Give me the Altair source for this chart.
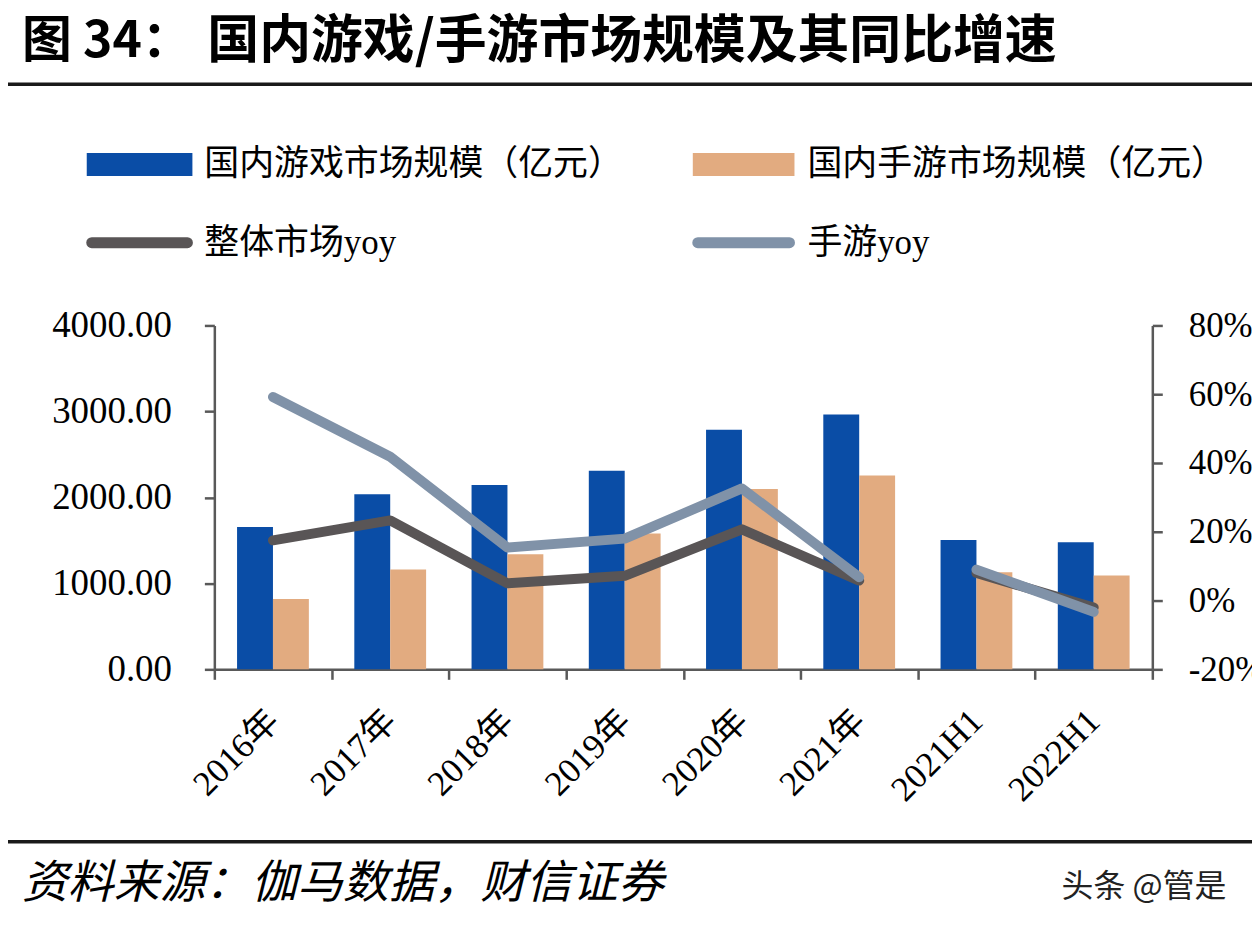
import altair as alt
import pandas as pd

# ---------------- data ----------------
categories = ["2016年", "2017年", "2018年", "2019年", "2020年", "2021年", "2021H1", "2022H1"]
game_market = [1655.7, 2036.1, 2144.4, 2308.8, 2786.9, 2965.1, 1504.9, 1477.9]
mobile_market = [819.2, 1161.2, 1339.6, 1581.1, 2096.8, 2255.4, 1130.0, 1090.0]
overall_yoy = [0.175, 0.233, 0.050, 0.072, 0.207, 0.058, 0.080, -0.020]
mobile_yoy = [0.592, 0.418, 0.154, 0.180, 0.326, 0.068, 0.090, -0.033]
segments = ["a", "a", "a", "a", "a", "a", "b", "b"]

S_GAME = "国内游戏市场规模（亿元）"
S_MOB = "国内手游市场规模（亿元）"
S_ALL = "整体市场yoy"
S_MYOY = "手游yoy"

title_a = "图 34："
title_b = "国内游戏/手游市场规模及其同比增速"
source_text = "资料来源：伽马数据，财信证券"
watermark = "头条 @管是"

BLUE = "#0A4DA6"
ORANGE = "#E2AB80"
DARK = "#595556"
SLATE = "#8092A8"
GRAY = "#595959"
SERIF = "Liberation Serif, Noto Sans CJK SC"
CJK = "Noto Sans CJK SC"

W, H = 941, 345

# ---------------- bars ----------------
bar_df = pd.DataFrame({
    "cat": categories * 2,
    "series": [S_GAME] * len(categories) + [S_MOB] * len(categories),
    "value": game_market + mobile_market,
})

x_axis = alt.Axis(
    title=None, labelAngle=-45, labelAlign="right", labelBaseline="middle",
    labelFontSize=35, labelFont=SERIF, labelColor="#000", labelPadding=36,
    tickBand="extent", tickSize=10, tickColor=GRAY, tickWidth=2.5,
    domainColor=GRAY, domainWidth=2.5, labelOverlap=False, grid=False,
)
x_enc = alt.X("cat:N", sort=categories, axis=x_axis,
              scale=alt.Scale(paddingInner=0, paddingOuter=0))

bars = alt.Chart(bar_df).mark_bar().encode(
    x=x_enc,
    xOffset=alt.XOffset("series:N", sort=[S_GAME, S_MOB],
                        scale=alt.Scale(domain=[S_GAME, S_MOB], paddingInner=0, paddingOuter=0.633)),
    y=alt.Y("value:Q", scale=alt.Scale(domain=[0, 4000], nice=False),
            axis=alt.Axis(title=None, values=[0, 1000, 2000, 3000, 4000], format=".2f",
                          labelFontSize=37, labelFont=SERIF, labelColor="#000", labelPadding=33,
                          tickSize=10, tickColor=GRAY, tickWidth=2.5, domainColor=GRAY,
                          domainWidth=2.5, grid=False)),
    color=alt.Color("series:N", scale=alt.Scale(domain=[S_GAME, S_MOB], range=[BLUE, ORANGE]),
                    legend=None),
)

# ---------------- lines ----------------
y_right_axis = alt.Axis(title=None, orient="right", values=[-0.2, 0, 0.2, 0.4, 0.6, 0.8],
                        format=".0%", labelExpr="replace(datum.label, '\u2212', '-')",
                        labelFontSize=35, labelFont=SERIF, labelColor="#000",
                        labelPadding=26, tickSize=10, tickColor=GRAY, tickWidth=2.5,
                        domainColor=GRAY, domainWidth=2.5, grid=False)


def line_layer(vals, color):
    df = pd.DataFrame({"cat": categories, "yoy": vals, "seg": segments})
    return alt.Chart(df).mark_line(strokeWidth=10, strokeCap="round", strokeJoin="round",
                                   color=color).encode(
        x=x_enc,
        y=alt.Y("yoy:Q", scale=alt.Scale(domain=[-0.2, 0.8], nice=False, zero=False),
                axis=y_right_axis),
        detail="seg:N",
    )


lines = alt.layer(line_layer(overall_yoy, DARK), line_layer(mobile_yoy, SLATE))

# ---------------- decorations (title, legend, footer) ----------------
one = pd.DataFrame({"k": [0]})


def text(t, x, y, size, font=CJK, weight="normal", style="normal", color="#000"):
    return alt.Chart(pd.DataFrame({"t": [t]})).mark_text(
        align="left", baseline="middle", fontSize=size, font=font, fontWeight=weight,
        fontStyle=style, color=color).encode(x=alt.value(x), y=alt.value(y), text="t:N")


def hline(x1, x2, y, color, width, cap="butt"):
    return alt.Chart(one).mark_rule(color=color, strokeWidth=width, strokeCap=cap).encode(
        x=alt.value(x1), x2=alt.value(x2), y=alt.value(y))


def rect(x1, x2, y1, y2, color):
    return alt.Chart(one).mark_rect(color=color).encode(
        x=alt.value(x1), x2=alt.value(x2), y=alt.value(y1), y2=alt.value(y2))


decor = [
    text(title_a, -193, -284, 50, weight="bold"),
    text(title_b, -7, -284, 52, weight="bold"),
    hline(-215, 1050, -242, "#1a1a1a", 3.5),
    rect(-128, -22, -173, -150, BLUE),
    text(S_GAME, -10, -162, 35, font=SERIF),
    rect(480, 582, -173, -150, ORANGE),
    text(S_MOB, 595, -162, 35, font=SERIF),
    hline(-123, -27, -83, DARK, 11, "round"),
    text(S_ALL, -10, -83, 35, font=SERIF),
    hline(485, 577, -83, SLATE, 11, "round"),
    text(S_MYOY, 595, -83, 35, font=SERIF),
    hline(-215, 1050, 518, "#1a1a1a", 3.5),
    text(source_text, -193, 560, 46, style="italic"),
    text(watermark, 850, 563, 32, color="#222"),
]

chart = alt.layer(bars, lines, *decor).resolve_scale(y="independent").properties(
    width=W, height=H,
    padding={"left": 207, "top": 317, "right": 100, "bottom": 245},
    autosize=alt.AutoSizeParams(type="none"),
    background="white",
).configure_view(stroke=None)

chart.save("out.html", embed_options={"renderer": "svg", "actions": False})
